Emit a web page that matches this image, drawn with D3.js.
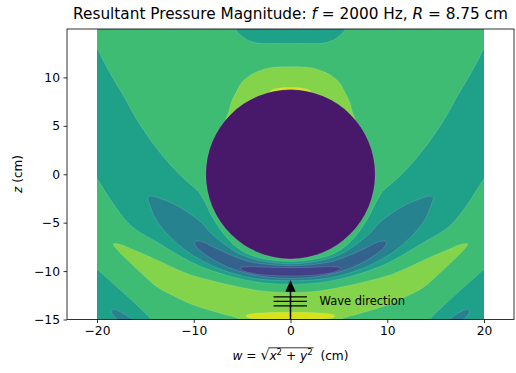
<!DOCTYPE html>
<html>
<head>
<meta charset="utf-8">
<script src="https://cdn.jsdelivr.net/npm/d3@7"></script>
<style>
  body { margin: 0; background: #fff; }
  text { font-family: "DejaVu Sans", sans-serif; fill: #000; }
</style>
</head>
<body>
<div id="chart"></div>
<script>
// sphere radius (cm) and number of filled levels
const R = 8.75;
const nLevels = 8;
const wTicks = [-20, -10, 0, 10, 20];
const zTicks = [-15, -10, -5, 0, 5, 10];

// band outlines, right half only (w >= 0), [w, z] in cm
// "join" outlines start and end on the axis w = 0 and are mirrored to the left
const greenTop = [[0, 16.5], [21.5, 16.5], [21.2, 13.5], [19.9, 12.8], [19.5, 12], [18.4, 10], [17.2, 8], [16.1, 6],
  [14.8, 4], [13.3, 2], [11.5, 0], [10.4, -1], [9.5, -1.8], [8.9, -2.8], [8.3, -4], [7.6, -5.2], [6.8, -6.3],
  [5.6, -7.5], [4, -8.4], [2, -8.85], [0, -9.0]];
const tealCap = [[0, 16.5], [6.8, 16.5], [5.7, 15], [5.2, 14.4], [4.5, 13.9], [3.4, 13.55], [2, 13.5], [0, 13.5]];
const limeCap = [[0, 11.1], [2.1, 11.0], [3.4, 10.6], [4.2, 10.2], [5.1, 9.4], [5.6, 8.5], [6.1, 7.5], [6.4, 6.4],
  [6.7, 5.5], [6.0, 4.0], [0, 4.0]];
const yellowCap = [[0, 8.95], [1.2, 8.88], [2.1, 8.55], [1.8, 8.0], [0, 8.0]];
const greenLow = [[0, -11.35], [3, -11.2], [6, -10.6], [8, -10.0], [10, -9.2], [12, -8.1], [14, -6.9], [15.7, -5.9],
  [16.8, -5.0], [18.5, -2.8], [19.9, -0.6], [21.5, 1.5], [21.5, -8.6], [19.9, -9.9], [18, -11.6], [16, -13.4],
  [14.4, -15], [13.5, -16.5], [0, -16.5]];
const limeLow = [[0, -12.2], [3, -12.05], [6, -11.5], [8.5, -10.9], [10.3, -10.4], [12, -9.7], [13.7, -8.9],
  [16, -7.9], [17.6, -7.25], [18.3, -7.2], [18.0, -7.7], [16.5, -9.2], [15, -10.6], [13.7, -11.7], [12, -12.6],
  [10.3, -13.4], [8.5, -14.0], [6.9, -14.45], [5.5, -14.85], [4.8, -15.3], [4.5, -16.5], [0, -16.5]];
const yellowLow = [[0, -14.25], [2.5, -14.3], [4, -14.42], [4.6, -14.6], [4.3, -14.85], [3, -14.95], [0, -14.97]];
const band3 = [[0, -9.25], [2, -9.1], [4, -8.7], [5.5, -8.1], [7, -7.1], [8.2, -6.1], [9.2, -5.0], [10.5, -4.0],
  [12, -3.1], [13.5, -2.5], [14.4, -2.25], [14.75, -2.4], [14.6, -3.0], [14.1, -4.3], [13.4, -5.4], [12.3, -6.6],
  [10.8, -7.9], [9, -9.0], [7, -9.9], [5, -10.5], [3, -10.85], [0, -11.0]];
const band2 = [[0, -9.45], [2.5, -9.3], [4.5, -8.95], [6.5, -8.2], [8, -7.5], [9.2, -6.95], [9.9, -6.95],
  [9.8, -7.4], [8.8, -8.3], [7.3, -9.2], [5.5, -9.95], [3.5, -10.45], [1.5, -10.7], [0, -10.75]];
const band1 = [[0, -9.65], [2.5, -9.6], [4.5, -9.55], [5.2, -9.7], [4.8, -10.0], [3.5, -10.3], [2, -10.45], [0, -10.5]];
// small closed lobe near the bottom corner, drawn on both sides
const cornerLobe = [[18.3, -13.95], [17.6, -14.2], [16.8, -14.7], [16.2, -15.2], [17.4, -15.3], [18.1, -14.8], [18.5, -14.2]];

const layers = [
  { pts: greenTop, level: 5, mode: "join" },
  { pts: tealCap, level: 4, mode: "join" },
  { pts: limeCap, level: 6, mode: "join" },
  { pts: yellowCap, level: 7, mode: "join" },
  { pts: greenLow, level: 5, mode: "join" },
  { pts: limeLow, level: 6, mode: "join" },
  { pts: yellowLow, level: 7, mode: "join" },
  { pts: band3, level: 3, mode: "join" },
  { pts: band2, level: 2, mode: "join" },
  { pts: band1, level: 1, mode: "join" },
  { pts: cornerLobe, level: 3, mode: "twin" }
];

// annotation (cm)
const arrowFrom = [0, -15], arrowTo = [0, -10.95];
const fronts = [-12.67, -13.12, -13.6];

const color = i => d3.interpolateViridis((i + 0.5) / nLevels);

const W = 516, H = 373;
const x = d3.scaleLinear().domain([-23.1, 23.1]).range([67, 514]);
const y = d3.scaleLinear().domain([-15, 15]).range([319.5, 29]);

const svg = d3.select("#chart").append("svg").attr("width", W).attr("height", H);

svg.append("clipPath").attr("id", "clip").append("rect")
  .attr("x", x(-20)).attr("y", y(15))
  .attr("width", x(20) - x(-20)).attr("height", y(-15) - y(15));

const plot = svg.append("g").attr("clip-path", "url(#clip)");

plot.append("rect")
  .attr("x", x(-20)).attr("y", y(15))
  .attr("width", x(20) - x(-20)).attr("height", y(-15) - y(15))
  .attr("fill", color(4));

const line = d3.line().x(d => x(d[0])).y(d => y(d[1])).curve(d3.curveCatmullRomClosed.alpha(0.5));
const mirror = pts => pts.map(([w, z]) => [-w, z]);

layers.forEach(l => {
  let rings;
  if (l.mode === "join") rings = [l.pts.concat(mirror(l.pts.slice(1, -1)).reverse())];
  else rings = [l.pts, mirror(l.pts)];
  rings.forEach(r => {
    plot.append("path")
      .attr("d", line(r))
      .attr("fill", color(l.level))
      .attr("stroke", "#fff").attr("stroke-opacity", 0.28).attr("stroke-width", 0.5);
  });
});

// the sphere itself
plot.append("circle")
  .attr("cx", x(0)).attr("cy", y(0)).attr("r", x(R) - x(0))
  .attr("fill", color(0))
  .attr("stroke", "#fff").attr("stroke-opacity", 0.25).attr("stroke-width", 0.5);

// wave direction arrow
const ann = svg.append("g");
ann.append("line")
  .attr("x1", x(arrowFrom[0])).attr("y1", y(arrowFrom[1]))
  .attr("x2", x(arrowTo[0])).attr("y2", y(arrowTo[1]) + 8)
  .attr("stroke", "#000").attr("stroke-width", 1.5);
ann.append("path")
  .attr("d", `M${x(arrowTo[0])},${y(arrowTo[1])} l5.2,11.5 l-10.4,0 z`)
  .attr("fill", "#000");
fronts.forEach(fz => {
  ann.append("line")
    .attr("x1", x(-1.75)).attr("x2", x(1.7))
    .attr("y1", y(fz)).attr("y2", y(fz))
    .attr("stroke", "#000").attr("stroke-width", 1.3);
});
ann.append("text")
  .attr("x", x(3.0)).attr("y", y(-13.12) + 4)
  .style("font-size", "11.5px")
  .text("Wave direction");

// axes frame
svg.append("rect")
  .attr("x", 67).attr("y", 29).attr("width", 447).attr("height", 290.5)
  .attr("fill", "none").attr("stroke", "#000").attr("stroke-width", 0.8);

const fmt = d => d3.format("d")(d).replace("-", "\u2212");
const xAxis = svg.append("g").attr("transform", "translate(0,319.5)")
  .call(d3.axisBottom(x).tickValues(wTicks).tickSize(3.5).tickPadding(3.5).tickFormat(fmt));
const yAxis = svg.append("g").attr("transform", "translate(67,0)")
  .call(d3.axisLeft(y).tickValues(zTicks).tickSize(3.5).tickPadding(3.5).tickFormat(fmt));
[xAxis, yAxis].forEach(a => {
  a.select(".domain").remove();
  a.selectAll(".tick line").attr("stroke", "#000").attr("stroke-width", 0.8);
  a.selectAll(".tick text").style("font-size", "12.3px").style("font-family", "DejaVu Sans").attr("fill", "#000");
});

// title
const title = svg.append("text")
  .attr("x", 290.5).attr("y", 18.5)
  .attr("text-anchor", "middle")
  .style("font-size", "15.3px");
title.append("tspan").text("Resultant Pressure Magnitude: ");
title.append("tspan").style("font-style", "italic").text("f");
title.append("tspan").text(" = 2000 Hz, ");
title.append("tspan").style("font-style", "italic").text("R");
title.append("tspan").text(" = 8.75 cm");

// x label: w = sqrt(x^2 + y^2) (cm), laid out piece by piece
const fs = 12.2;
const pieces = [
  { t: "w", it: true }, { t: " = " }, { t: "\u221a", rad: true },
  { t: "x", it: true, inRad: true }, { t: "2", sup: true, inRad: true },
  { t: " + ", inRad: true }, { t: "y", it: true, inRad: true }, { t: "2", sup: true, inRad: true },
  { t: "  (cm)" }
];
const xl = svg.append("g");
let cx = 0, radStart = null, radEnd = null;
pieces.forEach(p => {
  const t = xl.append("text")
    .attr("x", cx).attr("y", p.sup ? -4.8 : 0)
    .style("font-size", (p.sup ? fs * 0.7 : (p.rad ? fs * 1.15 : fs)) + "px")
    .style("font-style", p.it ? "italic" : "normal")
    .style("white-space", "pre")
    .text(p.t);
  const wdt = t.node().getComputedTextLength();
  if (p.inRad && radStart === null) radStart = cx;
  if (p.inRad) radEnd = cx + wdt;
  cx += wdt;
});
xl.append("line").attr("x1", radStart - 1).attr("x2", radEnd + 1)
  .attr("y1", -12.2).attr("y2", -12.2).attr("stroke", "#000").attr("stroke-width", 0.8);
xl.attr("transform", `translate(${290.5 - cx / 2},360)`);

// y label
const yl = svg.append("text")
  .attr("transform", "translate(22,174) rotate(-90)")
  .attr("text-anchor", "middle")
  .style("font-size", "12px");
yl.append("tspan").style("font-style", "italic").text("z");
yl.append("tspan").text(" (cm)");
</script>
</body>
</html>
